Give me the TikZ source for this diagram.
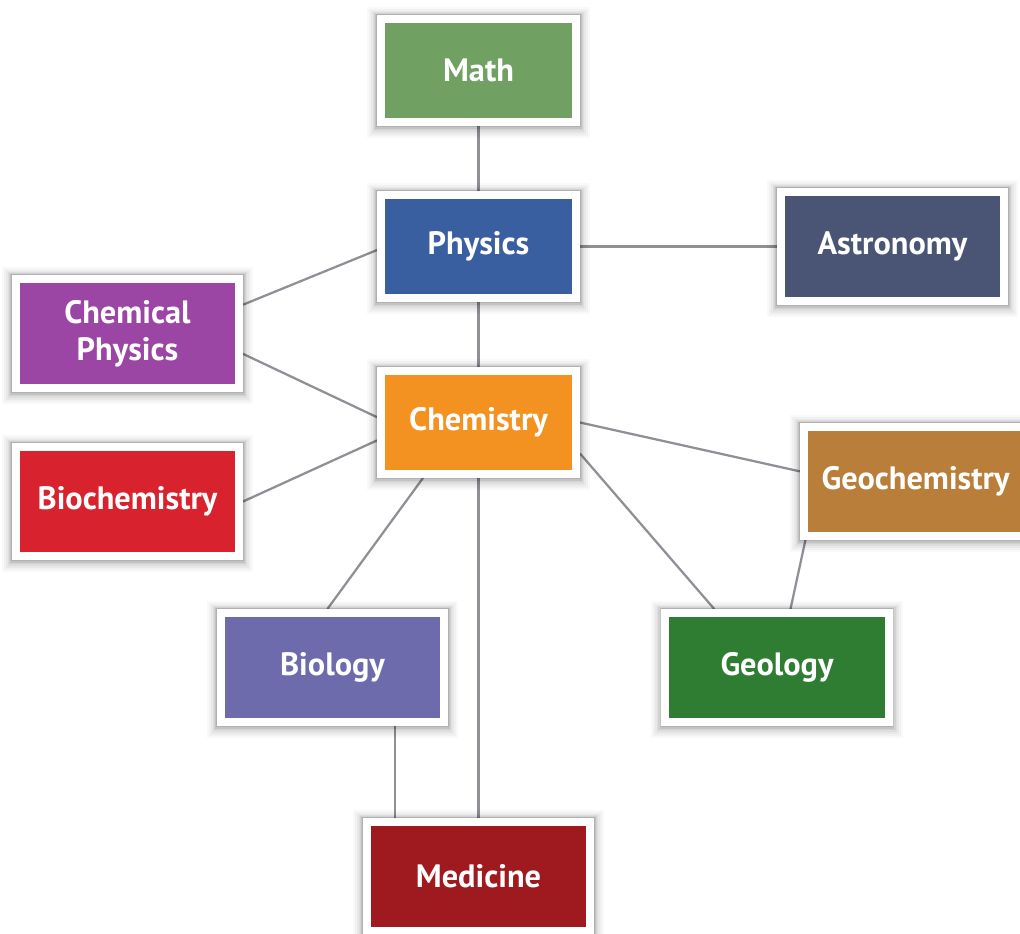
\documentclass[tikz,border=0pt]{standalone}
\usepackage{fontspec}
\newfontfamily\boxfont{PT Sans}
\usepackage{tikz}
\usetikzlibrary{
    calc,
    backgrounds
}
\definecolor{mathc}{RGB}{112,160,98}
\definecolor{physc}{RGB}{58,95,160}
\definecolor{astroc}{RGB}{74,85,117}
\definecolor{cphysc}{RGB}{155,69,165}
\definecolor{biochc}{RGB}{216,35,47}
\definecolor{chemc}{RGB}{243,146,32}
\definecolor{bioc}{RGB}{110,107,172}
\definecolor{geochc}{RGB}{185,126,58}
\definecolor{geolc}{RGB}{46,125,50}
\definecolor{medc}{RGB}{158,26,30}
\definecolor{linkc}{RGB}{142,144,150}
\tikzset{
    soft shadow/.style={
        preaction={draw=black, opacity=0.025, line width=0.70cm, transform canvas={yshift=-1.5pt}},
        preaction={draw=black, opacity=0.030, line width=0.60cm, transform canvas={yshift=-1.5pt}},
        preaction={draw=black, opacity=0.035, line width=0.50cm, transform canvas={yshift=-1.5pt}},
        preaction={draw=black, opacity=0.045, line width=0.42cm, transform canvas={yshift=-1pt}},
        preaction={draw=black, opacity=0.055, line width=0.35cm, transform canvas={yshift=-1pt}},
        preaction={draw=black, opacity=0.070, line width=0.29cm, transform canvas={yshift=-0.5pt}},
        preaction={draw=black, opacity=0.090, line width=0.24cm}
    }
}

\begin{document}
\begin{tikzpicture}[
        x=0.025cm, y=-0.025cm,
        box/.style={soft shadow, draw=white, line width=0.2cm, fill=#1, text=white,
            font=\boxfont\bfseries\fontsize{23}{26}\selectfont, align=center, inner sep=0pt},
        small box/.style={box=#1, minimum width=4.875cm, minimum height=2.575cm},
        big box/.style={box=#1, minimum width=5.575cm, minimum height=2.725cm},
        link/.style={draw=linkc, line width=1.6pt}
    ]
    \useasboundingbox (0,0) rectangle (1020,934);
    \clip (0,0) rectangle (1020,934);

    \node[small box=mathc] (math) at (478.5,70.5) {Math};
    \node[small box=physc] (phys) at (478.5,246.5) {Physics};
    \node[small box=chemc] (chem) at (478.5,422.5) {Chemistry};
    \node[big box=astroc] (astro) at (892.5,246.5) {Astronomy};
    \node[big box=cphysc] (cphys) at (127.5,333.5) {Chemical\\Physics};
    \node[big box=biochc] (bioch) at (127.5,501.5) {Biochemistry};
    \node[big box=geochc] (geoch) at (915.5,481.5) {Geochemistry};
    \node[big box=bioc] (bio) at (332.5,667.5) {Biology};
    \node[big box=geolc] (geol) at (777,667.5) {Geology};
    \node[big box=medc] (med) at (478.5,876.5) {Medicine};

    \begin{scope}[on background layer]
        \foreach \p/\q in {math.south/phys.north, phys.east/astro.west,
            phys.south/chem.north, cphys.14/phys.182, cphys.-10/chem.177,
            bioch.east/chem.190, chem.225/bio.95, chem.south/med.north,
            chem.east/geoch.175, chem.-17/geol.137, geoch.208/geol.77} {
            \draw [link] (\p) -- (\q);
        }
        \draw [link] (bio.-43) -- (bio.-43 |- med.north);
    \end{scope}

\end{tikzpicture}
\end{document}
